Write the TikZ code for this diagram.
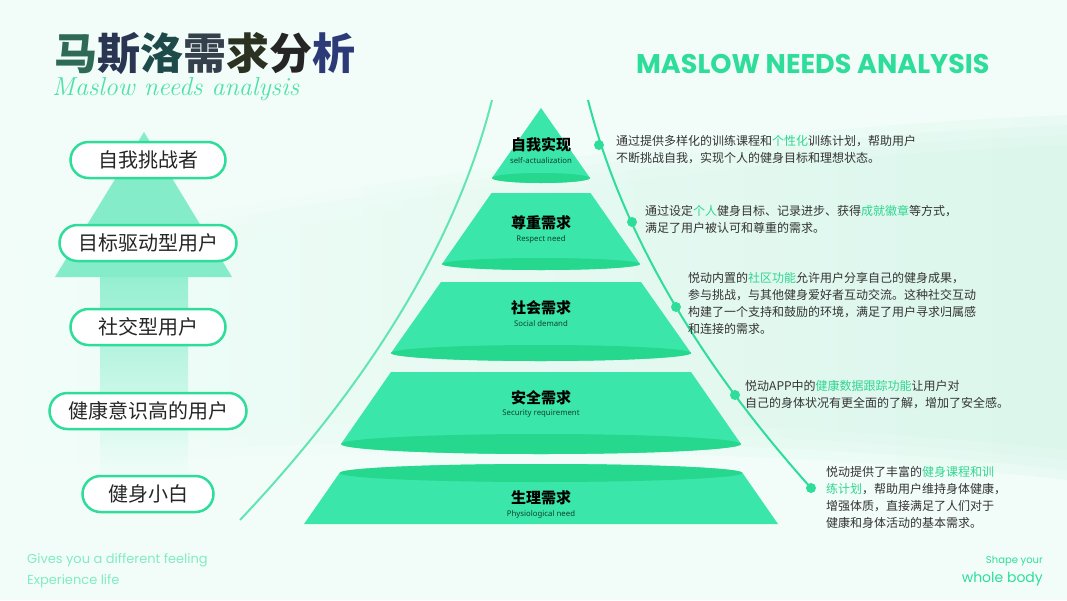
\documentclass[tikz,border=0pt]{standalone}
\usepackage{fontspec}
\usepackage{tikz}
\usetikzlibrary{positioning}

\newfontfamily\cjk{Noto Sans CJK SC}
\newfontfamily\popp{Poppins}
\newfontfamily\nsans{Noto Sans}

\definecolor{bgmint}{HTML}{F2FDF9}
\definecolor{bandmint}{HTML}{D6F6E9}
\definecolor{leaf}{HTML}{2FDD9A}
\definecolor{tierbody}{HTML}{3AE6A9}
\definecolor{tierrim}{HTML}{25D88D}
\definecolor{hl}{HTML}{2FD690}
\definecolor{ink}{HTML}{333333}
\definecolor{arrowhead}{HTML}{7AEBC5}
\definecolor{arrowshaft}{HTML}{95EFD0}
\definecolor{tA}{HTML}{2E6A55}
\definecolor{tB}{HTML}{2A3552}
\definecolor{tC}{HTML}{1E4A4A}
\definecolor{tD}{HTML}{34404C}
\definecolor{tE}{HTML}{2C3222}
\definecolor{tF}{HTML}{252525}
\definecolor{tG}{HTML}{2C3A78}

\tikzset{
  pill/.style={draw=leaf, line width=2.5pt, fill=white, rounded corners=18pt,
    minimum height=36pt, minimum width=#1, inner sep=0pt,
    font=\cjk\fontsize{20}{20}\selectfont, text=black!85},
  tiercn/.style={font=\cjk\bfseries\fontsize{15}{15}\selectfont, text=black, inner sep=0pt},
  tieren/.style={font=\nsans\fontsize{7.8}{7.8}\selectfont, text=black!70!leaf, inner sep=0pt},
  desc/.style={anchor=west, align=left, inner sep=0pt,
    font=\cjk\fontsize{12}{17}\selectfont, text=ink},
  bead/.style={circle, fill=leaf, minimum size=10pt, inner sep=0pt},
}

\begin{document}
\begin{tikzpicture}[x=1pt, y=-1pt]
  \useasboundingbox (0,0) rectangle (1067,600);
  \fill[bgmint] (0,0) rectangle (1067,600);
  % soft mint band
  \foreach \o in {0,10,20,30}
    \shade[left color=bgmint, middle color=bgmint!55!bandmint, right color=bandmint, opacity=0.3]
      (0,250+\o) .. controls (300,190+\o) and (700,130+\o) .. (1067,115+\o)
      -- (1067,480-\o) .. controls (800,450-\o) and (400,440-\o) .. (0,470-\o) -- cycle;

  % title block
  \node[anchor=west, inner sep=0pt, font=\cjk\bfseries\fontsize{43}{43}\selectfont] (title) at (54,54)
    {\textcolor{tA}{马}\textcolor{tB}{斯}\textcolor{tC}{洛}\textcolor{tD}{需}\textcolor{tE}{求}\textcolor{tF}{分}\textcolor{tG}{析}};
  \node[anchor=west, inner sep=0pt, font=\itshape\fontsize{26}{26}\selectfont, text=leaf!85] (subtitle) at (52,89) {Maslow needs analysis};
  \node[anchor=west, inner sep=0pt, font=\popp\bfseries\fontsize{27}{27}\selectfont, text=leaf] (headline) at (636,64) {MASLOW NEEDS ANALYSIS};

  % arrow behind the user types
  \shade[top color=arrowshaft, bottom color=bgmint] (100,277) rectangle (188,478);
  \fill[arrowhead, opacity=0.9] (144,132) -- (232,277) -- (55,277) -- cycle;

  \node[pill=155pt] (p1) at (148,160) {自我挑战者};
  \node[pill=177pt] (p2) at (148,243) {目标驱动型用户};
  \node[pill=155pt] (p3) at (148,327) {社交型用户};
  \node[pill=197pt] (p4) at (148,411) {健康意识高的用户};
  \node[pill=131pt] (p5) at (148,494) {健身小白};

  % side curves
  \coordinate (lt) at (492,100);
  \coordinate (lb) at (240,520);
  \coordinate (rt) at (588,100);
  \coordinate (rb) at (811,488);
  \draw[leaf!75, line width=2pt] (lt) .. controls (456.5,240) and (372.3,380) .. (lb);
  \draw[leaf, line width=2pt] (rt) .. controls (620.9,229.3) and (695.2,358.7) .. (rb);

  % pyramid
  \fill[tierbody] (541,108) -- (590,178) arc[start angle=0, end angle=-180, x radius=49pt, y radius=5pt] -- cycle;
  \fill[tierrim] (541,178) ellipse[x radius=49pt, y radius=5pt];

  \fill[tierbody] (491.5,193) -- (590.5,193) -- (640,264) arc[start angle=0, end angle=-180, x radius=99pt, y radius=6pt] -- cycle;
  \fill[tierrim] (541,264) ellipse[x radius=99pt, y radius=6pt];

  \fill[tierbody] (441,282) -- (641,282) -- (691,353) arc[start angle=0, end angle=-180, x radius=150pt, y radius=8pt] -- cycle;
  \fill[tierrim] (541,353) ellipse[x radius=150pt, y radius=8pt];

  \fill[tierbody] (391,372) -- (691,372) -- (741,444) arc[start angle=0, end angle=-180, x radius=200pt, y radius=10pt] -- cycle;
  \fill[tierrim] (541,444) ellipse[x radius=200pt, y radius=10pt];

  \fill[tierbody] (339.5,473) arc[start angle=180, end angle=0, x radius=201.5pt, y radius=9pt] -- (778,524) -- (304,524) -- cycle;
  \fill[tierrim] (541,473) ellipse[x radius=201.5pt, y radius=9pt];

  \node[tiercn] (lvl1) at (541,145) {自我实现};
  \node[tieren, below=4.5pt of lvl1] (lvl1en) {self-actualization};
  \node[tiercn] (lvl2) at (541,223) {尊重需求};
  \node[tieren, below=4.5pt of lvl2] (lvl2en) {Respect need};
  \node[tiercn] (lvl3) at (541,308) {社会需求};
  \node[tieren, below=4.5pt of lvl3] (lvl3en) {Social demand};
  \node[tiercn] (lvl4) at (541,398) {安全需求};
  \node[tieren, below=4.5pt of lvl4] (lvl4en) {Security requirement};
  \node[tiercn] (lvl5) at (541,498) {生理需求};
  \node[tieren, below=4.5pt of lvl5] (lvl5en) {Physiological need};

  % notes on the right curve
  \node[bead] (d1) at (599,145) {};
  \node[bead] (d2) at (632,222) {};
  \node[bead] (d3) at (676,307) {};
  \node[bead] (d4) at (735,395) {};
  \node[bead] (d5) at (811,488) {};

  \node[desc] (s1) at (616,150) {通过提供多样化的训练课程和\textcolor{hl}{个性化}训练计划，帮助用户\\不断挑战自我，实现个人的健身目标和理想状态。};
  \node[desc] (s2) at (645,219.5) {通过设定\textcolor{hl}{个人}健身目标、记录进步、获得\textcolor{hl}{成就徽章}等方式，\\满足了用户被认可和尊重的需求。};
  \node[desc] (s3) at (688,303.5) {悦动内置的\textcolor{hl}{社区功能}允许用户分享自己的健身成果，\\参与挑战，与其他健身爱好者互动交流。这种社交互动\\构建了一个支持和鼓励的环境，满足了用户寻求归属感\\和连接的需求。};
  \node[desc] (s4) at (745,395) {悦动APP中的\textcolor{hl}{健康数据跟踪功能}让用户对\\自己的身体状况有更全面的了解，增加了安全感。};
  \node[desc] (s5) at (826,497) {悦动提供了丰富的\textcolor{hl}{健身课程和训}\\\textcolor{hl}{练计划}，帮助用户维持身体健康，\\增强体质，直接满足了人们对于\\健康和身体活动的基本需求。};

  % footer
  \node[anchor=west, inner sep=0pt, font=\popp\fontsize{13}{13}\selectfont, text=leaf!60] (slogan1) at (27,560) {Gives you a different feeling};
  \node[anchor=west, inner sep=0pt, font=\popp\fontsize{13}{13}\selectfont, text=leaf!60] (slogan2) at (27,581) {Experience life};
  \node[anchor=east, inner sep=0pt, font=\popp\fontsize{10}{10}\selectfont, text=leaf] (shape) at (1043,561) {Shape your};
  \node[anchor=east, inner sep=0pt, font=\popp\fontsize{14}{14}\selectfont, text=leaf] (wbody) at (1043,579) {whole body};
\end{tikzpicture}
\end{document}
